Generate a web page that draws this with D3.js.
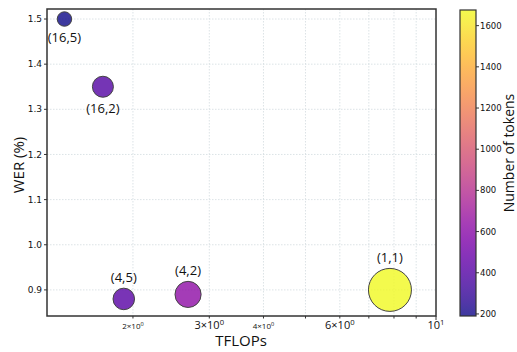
<!DOCTYPE html>
<html>
<head>
<meta charset="utf-8">
<script src="https://cdn.jsdelivr.net/npm/d3@7"></script>
<style>
  html, body { margin: 0; padding: 0; background: #fff; }
  svg { display: block; }
</style>
</head>
<body>
<svg id="chart" width="517" height="352"></svg>
<script>
// Configurations (layers, heads) and their cost / error / token count
const labels = ["(16,5)", "(16,2)", "(4,5)", "(4,2)", "(1,1)"];
const tflops = [1.39, 1.705, 1.905, 2.68, 7.83];
const wer = [1.50, 1.35, 0.88, 0.89, 0.90];
const tokens = [190, 400, 420, 620, 1676];
const labelSide = [1, 1, -1, -1, -1]; // 1 = below the point, -1 = above

const yTicks = [0.9, 1.0, 1.1, 1.2, 1.3, 1.4, 1.5];
const xGrid = [2, 3, 4, 5, 6, 7, 8, 9];
const xTickLabels = [
  { v: 2, base: "2\u00d710", exp: "0", size: 8 },
  { v: 3, base: "3\u00d710", exp: "0", size: 11 },
  { v: 4, base: "4\u00d710", exp: "0", size: 8 },
  { v: 6, base: "6\u00d710", exp: "0", size: 11 },
  { v: 10, base: "10", exp: "1", size: 11 }
];
const cbTicks = [200, 400, 600, 800, 1000, 1200, 1400, 1600];

const svg = d3.select("#chart");
const plot = { left: 47, right: 436, top: 9, bottom: 316 };
const cb = { left: 460, right: 476, top: 10, bottom: 316 };

const x = d3.scaleLog().domain([1.267, 10]).range([plot.left, plot.right]);
const y = d3.scaleLinear().domain([0.8422, 1.5222]).range([plot.bottom, plot.top]);
const tokDomain = [190, 1676];
const color = d3.scaleSequential(d3.interpolatePlasma).domain(tokDomain);
const r = d3.scaleSqrt().domain([0, 1676]).range([0, 21.5]);
const cbY = d3.scaleLinear().domain(tokDomain).range([cb.bottom, cb.top]);

const titleFont = "'Open Sans', 'DejaVu Sans', sans-serif";
const tickFont = "'DejaVu Sans', sans-serif";

// grid
const grid = svg.append("g").attr("stroke", "#d3dcdf").attr("stroke-width", 0.8)
  .attr("stroke-dasharray", "1.5,1.5");
grid.selectAll("line.h").data(yTicks).join("line")
  .attr("x1", plot.left).attr("x2", plot.right)
  .attr("y1", d => y(d)).attr("y2", d => y(d));
grid.selectAll("line.v").data(xGrid).join("line")
  .attr("x1", d => x(d)).attr("x2", d => x(d))
  .attr("y1", plot.top).attr("y2", plot.bottom);

// axes ticks and labels
const axes = svg.append("g");
axes.selectAll("line.yt").data(yTicks).join("line")
  .attr("x1", plot.left - 3).attr("x2", plot.left)
  .attr("y1", d => y(d)).attr("y2", d => y(d))
  .attr("stroke", "#333").attr("stroke-width", 1);
axes.selectAll("text.yl").data(yTicks).join("text")
  .attr("x", plot.left - 5).attr("y", d => y(d)).attr("dy", "0.35em")
  .attr("text-anchor", "end").attr("font-family", tickFont).attr("font-size", 9)
  .attr("fill", "#111").text(d => d3.format(".1f")(d));

axes.selectAll("line.xt").data([2, 3, 4, 5, 6, 7, 8, 9, 10]).join("line")
  .attr("x1", d => x(d)).attr("x2", d => x(d))
  .attr("y1", plot.bottom).attr("y2", d => plot.bottom + (d === 10 ? 4 : 2.5))
  .attr("stroke", "#333").attr("stroke-width", 1);
const xl = axes.selectAll("text.xl").data(xTickLabels).join("text")
  .attr("x", d => x(d.v)).attr("y", 329)
  .attr("text-anchor", "middle").attr("font-family", titleFont)
  .attr("font-size", d => d.size).attr("fill", "#111");
xl.append("tspan").text(d => d.base);
xl.append("tspan").attr("dy", d => -d.size * 0.4).attr("font-size", d => d.size * 0.7)
  .text(d => d.exp);

// plot frame
svg.append("rect")
  .attr("x", plot.left).attr("y", plot.top)
  .attr("width", plot.right - plot.left).attr("height", plot.bottom - plot.top)
  .attr("fill", "none").attr("stroke", "#333").attr("stroke-width", 1.5);

// points
const idx = d3.range(labels.length);
svg.append("g").selectAll("circle").data(idx).join("circle")
  .attr("cx", i => x(tflops[i])).attr("cy", i => y(wer[i]))
  .attr("r", i => r(tokens[i]))
  .attr("fill", i => color(tokens[i])).attr("fill-opacity", 0.8)
  .attr("stroke", "#444").attr("stroke-width", 1);

svg.append("g").selectAll("text").data(idx).join("text")
  .attr("x", i => x(tflops[i]))
  .attr("y", i => y(wer[i]) + labelSide[i] * (r(tokens[i]) + 11))
  .attr("dy", "0.35em").attr("text-anchor", "middle")
  .attr("font-family", titleFont).attr("font-size", 13).attr("fill", "#111")
  .text(i => labels[i]);

// axis titles
svg.append("text").attr("x", 241).attr("y", 346).attr("text-anchor", "middle")
  .attr("font-family", titleFont).attr("font-size", 15).attr("fill", "#111").text("TFLOPs");
svg.append("text").attr("transform", "translate(24,165) rotate(-90)")
  .attr("text-anchor", "middle").attr("font-family", titleFont).attr("font-size", 15)
  .attr("fill", "#111").text("WER (%)");

// colorbar
const defs = svg.append("defs");
const grad = defs.append("linearGradient").attr("id", "cbgrad")
  .attr("x1", 0).attr("y1", 1).attr("x2", 0).attr("y2", 0);
d3.range(0, 1.0001, 0.05).forEach(t => {
  grad.append("stop").attr("offset", t).attr("stop-color", d3.interpolatePlasma(t));
});
svg.append("rect").attr("x", cb.left).attr("y", cb.top)
  .attr("width", cb.right - cb.left).attr("height", cb.bottom - cb.top)
  .attr("fill", "url(#cbgrad)").attr("fill-opacity", 0.8);
svg.append("rect").attr("x", cb.left).attr("y", cb.top)
  .attr("width", cb.right - cb.left).attr("height", cb.bottom - cb.top)
  .attr("fill", "none").attr("stroke", "#333").attr("stroke-width", 1.2);
const cbg = svg.append("g");
cbg.selectAll("line").data(cbTicks).join("line")
  .attr("x1", cb.right).attr("x2", cb.right + 3)
  .attr("y1", d => cbY(d)).attr("y2", d => cbY(d))
  .attr("stroke", "#333");
cbg.selectAll("text").data(cbTicks).join("text")
  .attr("x", cb.right + 4).attr("y", d => cbY(d)).attr("dy", "0.35em")
  .attr("font-family", tickFont).attr("font-size", 8.5).attr("fill", "#111")
  .text(d => d);
svg.append("text").attr("transform", "translate(514,153) rotate(-90)")
  .attr("text-anchor", "middle").attr("font-family", titleFont).attr("font-size", 14)
  .attr("fill", "#111").text("Number of tokens");
</script>
</body>
</html>
